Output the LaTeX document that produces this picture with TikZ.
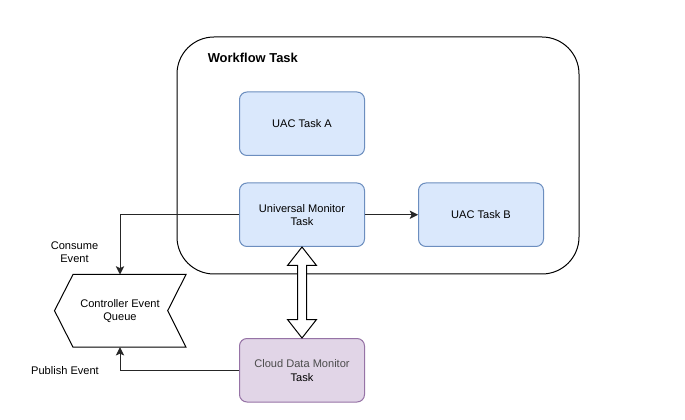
\documentclass[tikz,border=0pt]{standalone}
\usepackage{fontspec}
\setmainfont{Liberation Sans}
\usetikzlibrary{arrows.meta,calc}
\definecolor{bluefill}{HTML}{DAE8FC}
\definecolor{blueline}{HTML}{6C8EBF}
\definecolor{purplefill}{HTML}{E1D5E7}
\definecolor{purpleline}{HTML}{9673A6}
\tikzset{
  x=0.75pt,y=-0.75pt,
  lbl/.style={font=\fontsize{8.3pt}{9.8pt}\selectfont,align=center,text=black,inner sep=0pt},
  taskbox/.style={rectangle,rounded corners=7.5pt*0.75,minimum width=125*0.75pt,minimum height=63.5*0.75pt,inner sep=0pt,line width=0.75pt,align=center,font=\fontsize{8.3pt}{9.8pt}\selectfont},
  bluebox/.style={taskbox,draw=blueline,fill=bluefill},
  purplebox/.style={taskbox,draw=purpleline,fill=purplefill},
  conn/.style={draw=black!85,line width=0.75pt,-{Stealth[length=6.2pt,width=6.2pt,inset=1.4pt]}},
}
\begin{document}
\begin{tikzpicture}
\useasboundingbox (0,0) rectangle (685,420);
\fill[white] (0,0) rectangle (685,420);
\node[rectangle,draw=black,line width=0.75pt,rounded corners=37*0.75pt,minimum width=402*0.75pt,minimum height=237*0.75pt,inner sep=0pt] (wf) at (378,155.5) {};
\node[inner sep=0pt,anchor=west,font=\fontsize{9.7pt}{11pt}\selectfont\bfseries] (wft) at (207.5,58) {Workflow Task};
\node[bluebox] (a) at (302,123.75) {UAC Task A};
\node[bluebox] (um) at (302,214.75) {Universal Monitor\\Task};
\node[bluebox] (b) at (481,214.75) {UAC Task B};
\node[purplebox,font=\fontsize{8.3pt}{10.6pt}\selectfont] (cloud) at (302,370.25) {\textcolor{black!70}{Cloud Data Monitor}\\Task};
\draw[line width=0.75pt,draw=black] (54.5,310.7) -- (73,274.5) -- (186,274.5) -- (167.7,310.7) -- (186,347.2) -- (73,347.2) -- cycle;
\node[lbl] (q) at (120,311.5) {Controller Event\\Queue};
\coordinate (qt) at (120,274.5);
\coordinate (qb) at (120,347.2);
\node[lbl] (ce) at (74.5,252) {Consume\\Event};
\node[lbl] (pe) at (65,371) {Publish Event};
\draw[conn] (um.west) -| (qt);
\draw[conn] (cloud.west) -| (qb);
\draw[conn] (um.east) -- (b.west);
\draw[line width=0.75pt,draw=black,fill=white,line join=miter]
  (um.south) -- ++(14.5,18.5) -- ++(-10,0) -- ($(cloud.north)+(4.5,-18.5)$) -- ++(10,0) -- (cloud.north)
  -- ++(-14.5,-18.5) -- ++(10,0) -- ($(um.south)+(-4.5,18.5)$) -- ++(-10,0) -- cycle;
\end{tikzpicture}
\end{document}
